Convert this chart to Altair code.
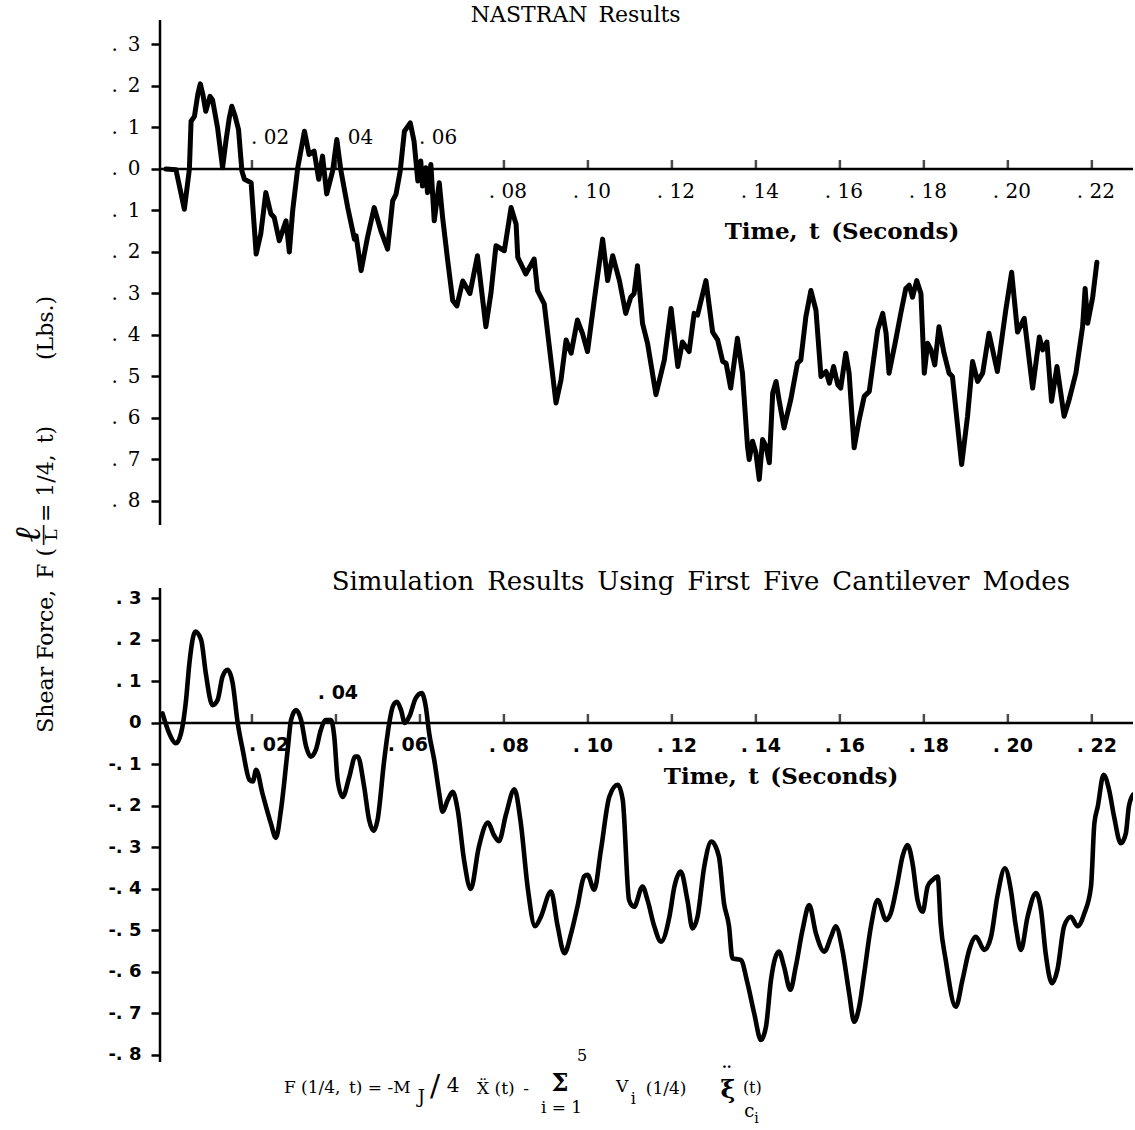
import altair as alt
import pandas as pd

# ---------------- data ----------------
top_t = [-0.0005, 0.0019, 0.0039, 0.0051, 0.0055, 0.0063, 0.0071, 0.0077, 0.0083, 0.0090,
         0.0100, 0.0106, 0.0118, 0.0130, 0.0138, 0.0146, 0.0152, 0.0160, 0.0168, 0.0176,
         0.0182, 0.0198, 0.0210, 0.0221, 0.0233, 0.0245, 0.0253, 0.0265, 0.0281, 0.0289,
         0.0297, 0.0309, 0.0325, 0.0336, 0.0348, 0.0359, 0.0368, 0.0378, 0.0392, 0.0402,
         0.0412, 0.0428, 0.0444, 0.0448, 0.0460, 0.0475, 0.0491, 0.0507, 0.0523, 0.0535,
         0.0543, 0.0553, 0.0563, 0.0577, 0.0586, 0.0595, 0.0602, 0.0606, 0.0614, 0.0618,
         0.0626, 0.0634, 0.0646, 0.0654, 0.0666, 0.0678, 0.0688, 0.0702, 0.0719, 0.0737,
         0.0757, 0.0769, 0.0781, 0.0801, 0.0817, 0.0829, 0.0833, 0.0852, 0.0872, 0.0880,
         0.0896, 0.0924, 0.0936, 0.0948, 0.0960, 0.0975, 0.0987, 0.0999, 0.1015, 0.1035,
         0.1047, 0.1059, 0.1075, 0.1090, 0.1102, 0.1110, 0.1118, 0.1130, 0.1142, 0.1162,
         0.1182, 0.1198, 0.1214, 0.1225, 0.1241, 0.1253, 0.1261, 0.1281, 0.1297, 0.1309,
         0.1321, 0.1329, 0.1340, 0.1356, 0.1368, 0.1380, 0.1384, 0.1392, 0.1400, 0.1408,
         0.1416, 0.1424, 0.1432, 0.1440, 0.1448, 0.1455, 0.1467, 0.1483, 0.1499, 0.1507,
         0.1519, 0.1531, 0.1543, 0.1555, 0.1567, 0.1575, 0.1585, 0.1595, 0.1602, 0.1614,
         0.1622, 0.1634, 0.1646, 0.1658, 0.1670, 0.1690, 0.1702, 0.1710, 0.1717, 0.1733,
         0.1745, 0.1757, 0.1765, 0.1773, 0.1783, 0.1793, 0.1801, 0.1809, 0.1817, 0.1826,
         0.1836, 0.1848, 0.1860, 0.1868, 0.1890, 0.1904, 0.1916, 0.1928, 0.1940, 0.1955,
         0.1975, 0.1995, 0.2009, 0.2023, 0.2039, 0.2059, 0.2075, 0.2083, 0.2093, 0.2104,
         0.2117, 0.2134, 0.2146, 0.2162, 0.2178, 0.2184, 0.2190, 0.2202, 0.2212]
top_f = [0.000, -0.002, -0.097, 0.000, 0.115, 0.127, 0.180, 0.205, 0.180, 0.139,
         0.175, 0.167, 0.100, 0.003, 0.067, 0.123, 0.151, 0.127, 0.095, -0.005,
         -0.025, -0.033, -0.205, -0.156, -0.057, -0.108, -0.117, -0.173, -0.125, -0.200,
         -0.100, 0.003, 0.091, 0.035, 0.043, -0.025, 0.031, -0.060, -0.005, 0.071,
         -0.005, -0.093, -0.169, -0.161, -0.245, -0.165, -0.093, -0.149, -0.193, -0.077,
         -0.061, -0.005, 0.091, 0.111, 0.067, -0.029, 0.019, -0.041, 0.003, -0.057,
         0.011, -0.125, -0.033, -0.117, -0.220, -0.317, -0.330, -0.270, -0.300, -0.209,
         -0.380, -0.300, -0.185, -0.197, -0.093, -0.133, -0.213, -0.253, -0.217, -0.293,
         -0.325, -0.564, -0.508, -0.412, -0.444, -0.364, -0.396, -0.440, -0.317, -0.169,
         -0.269, -0.209, -0.269, -0.348, -0.309, -0.300, -0.233, -0.372, -0.420, -0.544,
         -0.460, -0.336, -0.476, -0.417, -0.440, -0.348, -0.352, -0.269, -0.393, -0.412,
         -0.464, -0.468, -0.528, -0.408, -0.492, -0.668, -0.700, -0.656, -0.684, -0.748,
         -0.652, -0.668, -0.708, -0.540, -0.512, -0.556, -0.624, -0.556, -0.468, -0.460,
         -0.356, -0.293, -0.340, -0.500, -0.488, -0.516, -0.476, -0.520, -0.528, -0.444,
         -0.492, -0.672, -0.604, -0.548, -0.536, -0.388, -0.348, -0.396, -0.492, -0.412,
         -0.348, -0.288, -0.280, -0.309, -0.269, -0.300, -0.492, -0.420, -0.436, -0.472,
         -0.380, -0.444, -0.492, -0.500, -0.712, -0.596, -0.464, -0.512, -0.492, -0.396,
         -0.488, -0.340, -0.249, -0.393, -0.360, -0.528, -0.405, -0.436, -0.417, -0.560,
         -0.476, -0.596, -0.556, -0.492, -0.380, -0.288, -0.372, -0.309, -0.225]

bot_t = [-0.0013, 0.0003, 0.0019, 0.0031, 0.0043, 0.0051, 0.0065, 0.0079, 0.0090, 0.0106,
         0.0118, 0.0130, 0.0142, 0.0154, 0.0166, 0.0178, 0.0194, 0.0202, 0.0210, 0.0225,
         0.0245, 0.0257, 0.0269, 0.0285, 0.0293, 0.0305, 0.0317, 0.0329, 0.0340, 0.0352,
         0.0364, 0.0376, 0.0388, 0.0396, 0.0404, 0.0416, 0.0432, 0.0446, 0.0452, 0.0467,
         0.0479, 0.0490, 0.0499, 0.0515, 0.0527, 0.0535, 0.0545, 0.0555, 0.0564, 0.0575,
         0.0590, 0.0604, 0.0614, 0.0622, 0.0634, 0.0646, 0.0654, 0.0666, 0.0678, 0.0690,
         0.0705, 0.0721, 0.0740, 0.0762, 0.0776, 0.0788, 0.0805, 0.0825, 0.0840, 0.0857,
         0.0874, 0.0888, 0.0912, 0.0928, 0.0944, 0.0960, 0.0975, 0.0991, 0.0999, 0.1015,
         0.1031, 0.1051, 0.1071, 0.1083, 0.1098, 0.1110, 0.1130, 0.1142, 0.1158, 0.1174,
         0.1194, 0.1206, 0.1221, 0.1237, 0.1249, 0.1261, 0.1277, 0.1294, 0.1312, 0.1324,
         0.1336, 0.1344, 0.1364, 0.1380, 0.1396, 0.1412, 0.1424, 0.1436, 0.1455, 0.1467,
         0.1482, 0.1495, 0.1511, 0.1527, 0.1543, 0.1563, 0.1579, 0.1590, 0.1606, 0.1622,
         0.1634, 0.1646, 0.1658, 0.1674, 0.1690, 0.1710, 0.1721, 0.1737, 0.1749, 0.1761,
         0.1773, 0.1785, 0.1797, 0.1809, 0.1821, 0.1833, 0.1840, 0.1852, 0.1876, 0.1892,
         0.1908, 0.1924, 0.1944, 0.1960, 0.1975, 0.1993, 0.2007, 0.2019, 0.2031, 0.2047,
         0.2067, 0.2079, 0.2090, 0.2105, 0.2118, 0.2134, 0.2150, 0.2166, 0.2182, 0.2198,
         0.2206, 0.2214, 0.2228, 0.2241, 0.2253, 0.2269, 0.2281, 0.2288, 0.2298]
bot_f = [0.023, -0.025, -0.049, -0.025, 0.055, 0.144, 0.220, 0.200, 0.120, 0.043,
         0.055, 0.112, 0.128, 0.096, 0.000, -0.065, -0.137, -0.141, -0.113, -0.170,
         -0.242, -0.277, -0.210, -0.065, 0.007, 0.031, 0.007, -0.057, -0.081, -0.065,
         -0.017, 0.007, 0.007, -0.033, -0.137, -0.178, -0.129, -0.081, -0.081, -0.153,
         -0.234, -0.260, -0.234, -0.089, 0.000, 0.039, 0.051, 0.031, 0.000, 0.016,
         0.060, 0.072, 0.039, -0.025, -0.089, -0.170, -0.214, -0.186, -0.166, -0.210,
         -0.330, -0.400, -0.300, -0.240, -0.270, -0.285, -0.220, -0.160, -0.240, -0.400,
         -0.490, -0.467, -0.406, -0.490, -0.555, -0.507, -0.443, -0.370, -0.366, -0.402,
         -0.306, -0.178, -0.149, -0.186, -0.427, -0.443, -0.394, -0.427, -0.490, -0.527,
         -0.467, -0.394, -0.358, -0.427, -0.495, -0.467, -0.346, -0.286, -0.322, -0.434,
         -0.490, -0.567, -0.571, -0.627, -0.700, -0.764, -0.732, -0.619, -0.551, -0.587,
         -0.643, -0.587, -0.499, -0.439, -0.507, -0.551, -0.515, -0.490, -0.547, -0.651,
         -0.720, -0.684, -0.603, -0.490, -0.427, -0.475, -0.459, -0.386, -0.322, -0.294,
         -0.338, -0.427, -0.455, -0.394, -0.378, -0.370, -0.483, -0.571, -0.684, -0.619,
         -0.547, -0.515, -0.547, -0.515, -0.418, -0.350, -0.402, -0.490, -0.547, -0.467,
         -0.410, -0.451, -0.555, -0.627, -0.595, -0.490, -0.467, -0.490, -0.459, -0.394,
         -0.242, -0.202, -0.125, -0.161, -0.226, -0.290, -0.266, -0.202, -0.173]

x_tick_values = [0.02, 0.04, 0.06, 0.08, 0.10, 0.12, 0.14, 0.16, 0.18, 0.20, 0.22]
top_labels_above = [0.02, 0.04, 0.06]
top_labels_below = [0.08, 0.10, 0.12, 0.14, 0.16, 0.18, 0.20, 0.22]
bot_labels_left = [0.02]
bot_labels_right = [0.06]
bot_labels_above = [0.04]
bot_labels_below = [0.08, 0.10, 0.12, 0.14, 0.16, 0.18, 0.20, 0.22]
y_tick_values = [0.3, 0.2, 0.1, 0.0, -0.1, -0.2, -0.3, -0.4, -0.5, -0.6, -0.7, -0.8]

SP = "\u2002"  # en space (plain runs of spaces collapse in SVG)
top_title = "NASTRAN" + SP + "Results"
bot_title = SP.join(["Simulation", "Results", "Using", "First", "Five", "Cantilever", "Modes"])
time_title = "Time," + SP + "t" + SP + "(Seconds)"

# ---------------- scales / layout ----------------
X_DOM = [-0.0019, 0.2298]
TOP_DOM = [-2.152, 0.359]
BOT_DOM = [-0.817, 1.694]
W, H = 973, 1042
SERIF = "DejaVu Serif"
SANS = "DejaVu Sans"

xenc = alt.X("t:Q", scale=alt.Scale(domain=X_DOM, nice=False, zero=False), axis=None)

top_axis = alt.Axis(orient="left", values=y_tick_values, domain=False, grid=False,
                    tickSize=9, tickWidth=2.5, tickColor="black",
                    labelExpr="'.\u2002' + round(abs(datum.value) * 10)",
                    labelFont=SERIF, labelFontSize=20, labelColor="black",
                    labelPadding=11, labelOverlap=False, labelFlush=False, title=None)
bot_axis = alt.Axis(orient="left", values=y_tick_values, domain=False, grid=False,
                    tickSize=9, tickWidth=2.5, tickColor="black",
                    labelExpr="datum.value == 0 ? '0' : (datum.value < 0 ? '-. ' : '. ') + round(abs(datum.value) * 10)",
                    labelFont=SANS, labelFontSize=18, labelFontWeight="bold", labelColor="black",
                    labelPadding=10, labelOverlap=False, labelFlush=False, title=None)

ytop = alt.Y("f:Q", scale=alt.Scale(domain=TOP_DOM, nice=False, zero=False), axis=top_axis)
ybot = alt.Y("f:Q", scale=alt.Scale(domain=BOT_DOM, nice=False, zero=False), axis=bot_axis)


def tick_df(vals):
    return pd.DataFrame({"t": vals, "f": [0.0] * len(vals),
                         "label": [". %02d" % round(v * 100) for v in vals]})


def panel(series_t, series_f, yenc, axis_top, axis_bottom, interp, stroke, label_groups,
          font, weight, label_size, title_text, title_pos, title_size, time_pos):
    df = pd.DataFrame({"t": series_t, "f": series_f})
    line = alt.Chart(df).mark_line(color="black", strokeWidth=stroke, interpolate=interp,
                                   strokeJoin="round", strokeCap="round", clip=True).encode(x=xenc, y=yenc)
    zero = alt.Chart(pd.DataFrame({"f": [0.0]})).mark_rule(color="black", strokeWidth=2.5).encode(y=yenc)
    yline = alt.Chart(pd.DataFrame({"f": [axis_top], "f2": [axis_bottom]})).mark_rule(
        color="black", strokeWidth=2.5).encode(x=alt.value(0), y=yenc, y2=alt.Y2("f2:Q"))
    ticks = alt.Chart(tick_df(x_tick_values)).mark_tick(
        orient="vertical", size=9, thickness=2.5, yOffset=-4.5, color="black").encode(x=xenc, y=yenc)
    layers = [zero, yline, ticks]
    for vals, align, dy, dx in label_groups:
        if vals:
            layers.append(alt.Chart(tick_df(vals)).mark_text(
                font=font, fontSize=label_size, fontWeight=weight, align=align, baseline="middle",
                dy=dy, dx=dx, color="black").encode(x=xenc, y=yenc, text="label:N"))
    tdf = pd.DataFrame({"t": [title_pos[0]], "f": [title_pos[1]], "label": [title_text]})
    layers.append(alt.Chart(tdf).mark_text(font=SERIF, fontSize=title_size, align="center",
                                           baseline="middle", color="black").encode(
        x=xenc, y=yenc, text="label:N"))
    mdf = pd.DataFrame({"t": [time_pos[0]], "f": [time_pos[1]], "label": [time_title]})
    layers.append(alt.Chart(mdf).mark_text(font=SERIF, fontSize=23, fontWeight="bold",
                                           align="center", baseline="middle", color="black").encode(
        x=xenc, y=yenc, text="label:N"))
    layers.append(line)
    return layers


top_layers = panel(top_t, top_f, ytop, 0.359, -0.858, "linear", 5,
                   [(top_labels_above, "left", -31, -1), (top_labels_below, "center", 23, 4)],
                   SERIF, "normal", 20,
                   top_title, (0.0971, 0.371), 22, (0.1605, -0.152))
bot_layers = panel(bot_t, bot_f, ybot, 0.325, -0.817, "monotone", 4.6,
                   [(bot_labels_above, "center", -30, 2), (bot_labels_left, "left", 22, -3),
                    (bot_labels_right, "right", 22, 8), (bot_labels_below, "center", 23, 5)],
                   SANS, "bold", 19,
                   bot_title, (0.1269, 0.340), 26, (0.146, -0.130))

# rotated y-axis title, assembled from pieces (top scale coordinates)
ytitle_parts = [
    ("Shear Force," + SP + "F (", -0.02905, -0.913, 22, "right", "normal"),
    ("\u2113", -0.0331, -0.882, 36, "center", "italic"),
    ("\u2014", -0.0298, -0.882, 22, "center", "normal"),
    ("L", -0.0276, -0.882, 17, "center", "normal"),
    ("= 1/4," + SP + "t)", -0.02905, -0.851, 22, "left", "normal"),
    ("(Lbs.)", -0.02905, -0.383, 22, "center", "normal"),
]
for txt, tt, ff, sz, al, st in ytitle_parts:
    d = pd.DataFrame({"t": [tt], "f": [ff], "label": [txt]})
    top_layers.append(alt.Chart(d).mark_text(font=SERIF, fontSize=sz, angle=270, align=al,
                                             fontStyle=st, baseline="middle", color="black").encode(
        x=xenc, y=ytop, text="label:N"))

# formula under the lower panel (bottom scale coordinates)
formula_parts = [
    ("F (1/4," + SP + "t) = -M", 0.0276, -0.880, 17),
    ("J", 0.0595, -0.904, 18),
    ("/", 0.0624, -0.877, 30),
    ("4", 0.0664, -0.875, 20),
    ("X\u0308 (t)" + SP + "-", 0.0736, -0.882, 17),
    ("5", 0.0974, -0.802, 16),
    ("i = 1", 0.0888, -0.928, 17),
    ("V", 0.1067, -0.877, 17),
    ("i", 0.1102, -0.906, 16),
    ("(1/4)", 0.1138, -0.882, 17),
    ("(t)", 0.1369, -0.880, 16),
    ("c", 0.1372, -0.937, 18),
    ("i", 0.1396, -0.955, 14),
]
formula_bold = [
    ("\u03a3", 0.0913, -0.870, 24),
    ("\u03be", 0.1316, -0.884, 25),
    ("\u00b7\u00b7", 0.1319, -0.831, 14),
]


def formula_layer(parts, weight):
    d = pd.DataFrame({"t": [p[1] for p in parts], "f": [p[2] for p in parts],
                      "label": [p[0] for p in parts], "size": [p[3] for p in parts]})
    return alt.Chart(d).mark_text(font=SERIF, align="left", baseline="middle", fontWeight=weight,
                                  color="black").encode(
        x=xenc, y=ybot, text="label:N", size=alt.Size("size:Q", scale=None, legend=None))


bot_layers.append(formula_layer(formula_parts, "normal"))
bot_layers.append(formula_layer(formula_bold, "bold"))

chart = alt.layer(alt.layer(*top_layers), alt.layer(*bot_layers)).resolve_scale(
    y="independent").properties(
    width=W, height=H,
    autosize=alt.AutoSizeParams(type="none"),
    padding={"left": 160, "top": 20, "right": 2, "bottom": 68},
    background="white",
).configure_view(stroke=None)

chart.save("out.html", embed_options={"renderer": "svg", "actions": False})
